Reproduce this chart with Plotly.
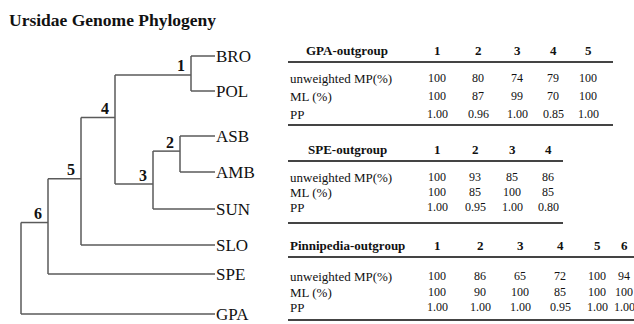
import plotly.graph_objects as go

# ---------------- data ----------------
title_text = "Ursidae Genome Phylogeny"
leaves = ["BRO", "POL", "ASB", "AMB", "SUN", "SLO", "SPE", "GPA"]
# internal clades (label -> two children), tree topology
clade_children = {
    "1": ("BRO", "POL"),
    "2": ("ASB", "AMB"),
    "3": ("2", "SUN"),
    "4": ("1", "3"),
    "5": ("4", "SLO"),
    "6": ("5", "SPE"),
    "root": ("6", "GPA"),
}

row_labels = ["unweighted MP(%)", "ML (%)", "PP"]

gpa_title = "GPA-outgroup"
gpa_nodes = ["1", "2", "3", "4", "5"]
gpa_mp = [100, 80, 74, 79, 100]
gpa_ml = [100, 87, 99, 70, 100]
gpa_pp = [1.00, 0.96, 1.00, 0.85, 1.00]

spe_title = "SPE-outgroup"
spe_nodes = ["1", "2", "3", "4"]
spe_mp = [100, 93, 85, 86]
spe_ml = [100, 85, 100, 85]
spe_pp = [1.00, 0.95, 1.00, 0.80]

pin_title = "Pinnipedia-outgroup"
pin_nodes = ["1", "2", "3", "4", "5", "6"]
pin_mp = [100, 86, 65, 72, 100, 94]
pin_ml = [100, 90, 100, 85, 100, 100]
pin_pp = [1.00, 1.00, 1.00, 0.95, 1.00, 1.00]

# ---------------- layout (pixel space) ----------------
W, H = 634, 324
SERIF = "Liberation Serif, Times New Roman, serif"
TREE_COLOR = "#5a5a5a"
TEXT_COLOR = "#111111"
RULE_COLOR = "#444444"

LEAF_X_END = 215
LEAF_Y = {"BRO": 56, "POL": 91, "ASB": 136, "AMB": 172,
          "SUN": 209, "SLO": 245, "SPE": 274, "GPA": 314}
NODE_X = {"1": 191, "2": 180, "3": 153, "4": 115, "5": 81, "6": 48, "root": 21}
STEM_FRAC = {"1": 0.54, "2": 0.42, "3": 0.57, "4": 0.39,
             "5": 0.48, "6": 0.46, "root": 0.5}

TABLE_LAYOUT = [
    dict(header_y=50, rule1=62, rows=[78, 96, 114], rule2=125,
         cols=[437, 478, 517, 553, 588], rule_end=613),
    dict(header_y=149, rule1=161, rows=[177, 192, 207], rule2=223,
         cols=[437, 475, 512, 548], rule_end=563),
    dict(header_y=245, rule1=257, rows=[276, 292, 307], rule2=320,
         cols=[437, 480, 520, 560, 597, 624], rule_end=634),
]
TABLE_X0 = 288
TABLE_TITLE_X = 347

fig = go.Figure()
annotations = []
shapes = []

# ---------------- tree ----------------
node_y = dict(LEAF_Y)
node_x = {leaf: LEAF_X_END for leaf in leaves}
for lab in ["1", "2", "3", "4", "5", "6", "root"]:
    a, b = clade_children[lab]
    node_y[lab] = node_y[a] + STEM_FRAC[lab] * (node_y[b] - node_y[a])
    node_x[lab] = NODE_X[lab]

xs, ys = [], []
for lab in ["1", "2", "3", "4", "5", "6", "root"]:
    a, b = clade_children[lab]
    x = node_x[lab]
    # vertical connector
    xs += [x, x, None]
    ys += [node_y[a], node_y[b], None]
    # horizontal branches to children
    for c in (a, b):
        xs += [x, node_x[c], None]
        ys += [node_y[c], node_y[c], None]

fig.add_trace(go.Scatter(x=xs, y=ys, mode="lines",
                         line=dict(color=TREE_COLOR, width=1.5),
                         hoverinfo="skip", showlegend=False))

for leaf in leaves:
    annotations.append(dict(x=LEAF_X_END - 1, y=node_y[leaf], text=leaf,
                            xanchor="left", yanchor="middle", showarrow=False,
                            font=dict(family=SERIF, size=17, color=TEXT_COLOR)))

for lab in ["1", "2", "3", "4", "5", "6"]:
    annotations.append(dict(x=node_x[lab] - 4, y=node_y[lab] - 9, text="<b>%s</b>" % lab,
                            xanchor="right", yanchor="middle", showarrow=False,
                            font=dict(family=SERIF, size=16, color=TEXT_COLOR)))

# title
annotations.append(dict(x=7, y=20, text="<b>%s</b>" % title_text,
                        xanchor="left", yanchor="middle", showarrow=False,
                        font=dict(family=SERIF, size=17.5, color=TEXT_COLOR)))

# ---------------- tables ----------------
tables = [
    (gpa_title, gpa_nodes, [gpa_mp, gpa_ml, gpa_pp]),
    (spe_title, spe_nodes, [spe_mp, spe_ml, spe_pp]),
    (pin_title, pin_nodes, [pin_mp, pin_ml, pin_pp]),
]

for (ttl, nodes, rows), lay in zip(tables, TABLE_LAYOUT):
    annotations.append(dict(x=TABLE_TITLE_X, y=lay["header_y"], text="<b>%s</b>" % ttl,
                            xanchor="center", yanchor="middle", showarrow=False,
                            font=dict(family=SERIF, size=13, color=TEXT_COLOR)))
    for n, cx in zip(nodes, lay["cols"]):
        annotations.append(dict(x=cx, y=lay["header_y"], text="<b>%s</b>" % n,
                                xanchor="center", yanchor="middle", showarrow=False,
                                font=dict(family=SERIF, size=13, color=TEXT_COLOR)))
    for ri, (rlab, vals, ry) in enumerate(zip(row_labels, rows, lay["rows"])):
        annotations.append(dict(x=TABLE_X0, y=ry, text=rlab,
                                xanchor="left", yanchor="middle", showarrow=False,
                                font=dict(family=SERIF, size=13, color=TEXT_COLOR)))
        for v, cx in zip(vals, lay["cols"]):
            txt = "%.2f" % v if ri == 2 else "%d" % v
            annotations.append(dict(x=cx, y=ry, text=txt,
                                    xanchor="center", yanchor="middle", showarrow=False,
                                    font=dict(family=SERIF, size=12, color=TEXT_COLOR)))
    for ry in (lay["rule1"], lay["rule2"]):
        shapes.append(dict(type="line", xref="x", yref="y",
                           x0=TABLE_X0, x1=lay["rule_end"], y0=ry, y1=ry,
                           line=dict(color=RULE_COLOR, width=1.8)))

fig.update_layout(
    width=W, height=H,
    margin=dict(l=0, r=0, t=0, b=0),
    paper_bgcolor="white", plot_bgcolor="white",
    xaxis=dict(range=[0, W], visible=False, fixedrange=True),
    yaxis=dict(range=[H, 0], visible=False, fixedrange=True),
    annotations=annotations,
    shapes=shapes,
    showlegend=False,
)

fig.write_html("out.html", config={"displayModeBar": False, "staticPlot": True},
               post_script="document.body.style.margin='0';document.body.style.overflow='hidden';")
